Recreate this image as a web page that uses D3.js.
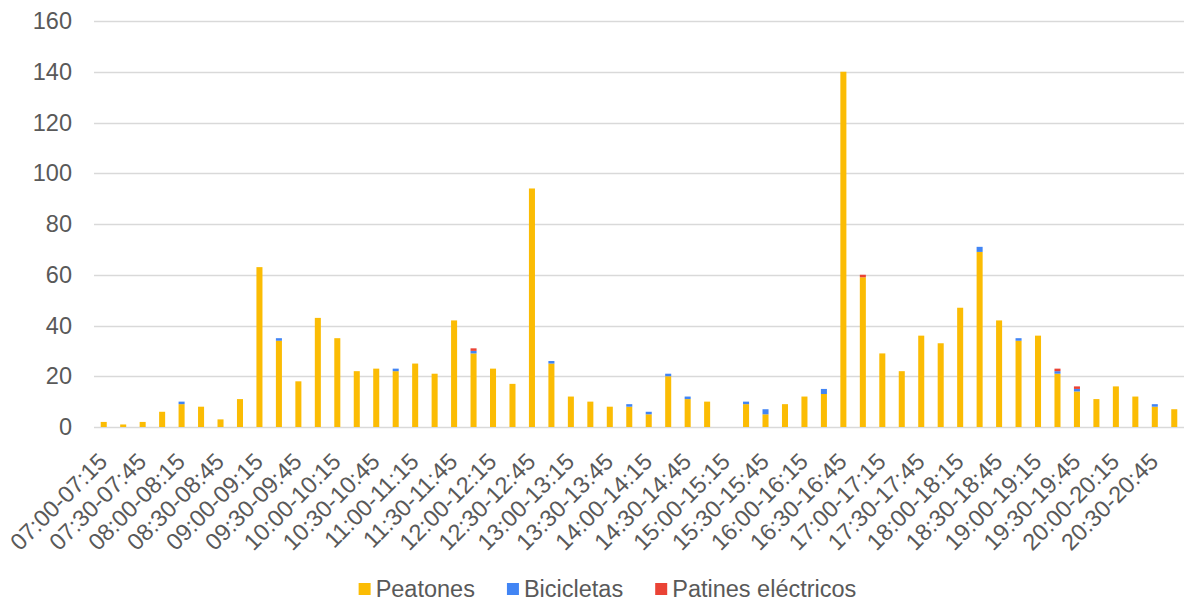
<!DOCTYPE html>
<html>
<head>
<meta charset="utf-8">
<script src="https://cdn.jsdelivr.net/npm/d3@7"></script>
<style>
  html, body { margin: 0; padding: 0; background: #fff; }
  svg { display: block; font-family: "Liberation Sans", Arial, sans-serif; }
</style>
</head>
<body>
<svg id="chart" width="1195" height="606"></svg>
<script>
const categories = [
  "07:00-07:15","07:15-07:30","07:30-07:45","07:45-08:00",
  "08:00-08:15","08:15-08:30","08:30-08:45","08:45-09:00",
  "09:00-09:15","09:15-09:30","09:30-09:45","09:45-10:00",
  "10:00-10:15","10:15-10:30","10:30-10:45","10:45-11:00",
  "11:00-11:15","11:15-11:30","11:30-11:45","11:45-12:00",
  "12:00-12:15","12:15-12:30","12:30-12:45","12:45-13:00",
  "13:00-13:15","13:15-13:30","13:30-13:45","13:45-14:00",
  "14:00-14:15","14:15-14:30","14:30-14:45","14:45-15:00",
  "15:00-15:15","15:15-15:30","15:30-15:45","15:45-16:00",
  "16:00-16:15","16:15-16:30","16:30-16:45","16:45-17:00",
  "17:00-17:15","17:15-17:30","17:30-17:45","17:45-18:00",
  "18:00-18:15","18:15-18:30","18:30-18:45","18:45-19:00",
  "19:00-19:15","19:15-19:30","19:30-19:45","19:45-20:00",
  "20:00-20:15","20:15-20:30","20:30-20:45","20:45-21:00"
];
const peatones = [
  2, 1, 2, 6, 9, 8, 3, 11,
  63, 34, 18, 43, 35, 22, 23, 22,
  25, 21, 42, 29, 23, 17, 94, 25,
  12, 10, 8, 8, 5, 20, 11, 10,
  0, 9, 5, 9, 12, 13, 140, 59,
  29, 22, 36, 33, 47, 69, 42, 34,
  36, 21, 14, 11, 16, 12, 8, 7
];
const bicicletas = [
  0, 0, 0, 0, 1, 0, 0, 0,
  0, 1, 0, 0, 0, 0, 0, 1,
  0, 0, 0, 1, 0, 0, 0, 1,
  0, 0, 0, 1, 1, 1, 1, 0,
  0, 1, 2, 0, 0, 2, 0, 0,
  0, 0, 0, 0, 0, 2, 0, 1,
  0, 1, 1, 0, 0, 0, 1, 0
];
const patines = [
  0, 0, 0, 0, 0, 0, 0, 0,
  0, 0, 0, 0, 0, 0, 0, 0,
  0, 0, 0, 1, 0, 0, 0, 0,
  0, 0, 0, 0, 0, 0, 0, 0,
  0, 0, 0, 0, 0, 0, 0, 1,
  0, 0, 0, 0, 0, 0, 0, 0,
  0, 1, 1, 0, 0, 0, 0, 0
];
const seriesNames = ["Peatones", "Bicicletas", "Patines eléctricos"];
const seriesColors = ["#FBBC04", "#4285F4", "#EA4335"];
const yTicks = [0, 20, 40, 60, 80, 100, 120, 140, 160];

const svg = d3.select("#chart");
const plot = { left: 94, right: 1184, top: 21, bottom: 427 };
const textColor = "#595959";
const fontSize = 23.5;

const x = d3.scaleBand().domain(categories).range([plot.left, plot.right])
  .paddingInner(0.69).paddingOuter(0.345);
const y = d3.scaleLinear().domain([0, 160]).range([plot.bottom, plot.top]);

// gridlines
svg.append("g").selectAll("line").data(yTicks).join("line")
  .attr("x1", plot.left).attr("x2", plot.right)
  .attr("y1", d => Math.round(y(d)) + 0.5).attr("y2", d => Math.round(y(d)) + 0.5)
  .attr("stroke", "#d9d9d9").attr("stroke-width", 1.3);

// y axis labels
const yAxis = d3.axisLeft(y).tickValues(yTicks).tickSize(0).tickPadding(0);
const yg = svg.append("g").attr("transform", `translate(72,0)`).call(yAxis);
yg.select(".domain").remove();
yg.selectAll("text").attr("font-size", fontSize).attr("fill", textColor)
  .attr("font-family", "Liberation Sans, Arial, sans-serif");

// stacked data
const rows = categories.map((c, i) => ({ cat: c, Peatones: peatones[i], Bicicletas: bicicletas[i], "Patines eléctricos": patines[i] }));
const stack = d3.stack().keys(seriesNames)(rows);

svg.append("g").selectAll("g").data(stack).join("g")
  .attr("fill", (d, i) => seriesColors[i])
  .selectAll("rect").data(d => d).join("rect")
  .attr("x", d => x(d.data.cat))
  .attr("width", x.bandwidth())
  .attr("y", d => y(d[1]))
  .attr("height", d => Math.max(0, y(d[0]) - y(d[1])));

// x axis labels (every other)
const xAxis = d3.axisBottom(x).tickValues(categories.filter((c, i) => i % 2 === 0)).tickSize(0).tickPadding(0);
const xg = svg.append("g").attr("transform", `translate(0,${plot.bottom})`).call(xAxis);
xg.select(".domain").remove();
xg.selectAll("text")
  .attr("font-size", fontSize).attr("fill", textColor)
  .attr("font-family", "Liberation Sans, Arial, sans-serif")
  .attr("text-anchor", "end")
  .attr("dy", 0)
  .attr("y", 0)
  .attr("transform", "translate(5,36) rotate(-45)");

// legend
const legend = svg.append("g");
const items = legend.selectAll("g").data(seriesNames).join("g");
items.append("rect").attr("width", 12).attr("height", 12).attr("y", 583)
  .attr("fill", (d, i) => seriesColors[i]);
items.append("text").text(d => d).attr("y", 597).attr("x", 17)
  .attr("font-size", fontSize).attr("fill", textColor);
let widths = [];
items.each(function() { widths.push(d3.select(this).select("text").node().getComputedTextLength()); });
const gap = 32;
const total = widths.reduce((a, w) => a + 17 + w, 0) + gap * (widths.length - 1);
let cx = 607.5 - total / 2;
items.each(function(d, i) {
  d3.select(this).attr("transform", `translate(${cx},0)`);
  cx += 17 + widths[i] + gap;
});
</script>
</body>
</html>
